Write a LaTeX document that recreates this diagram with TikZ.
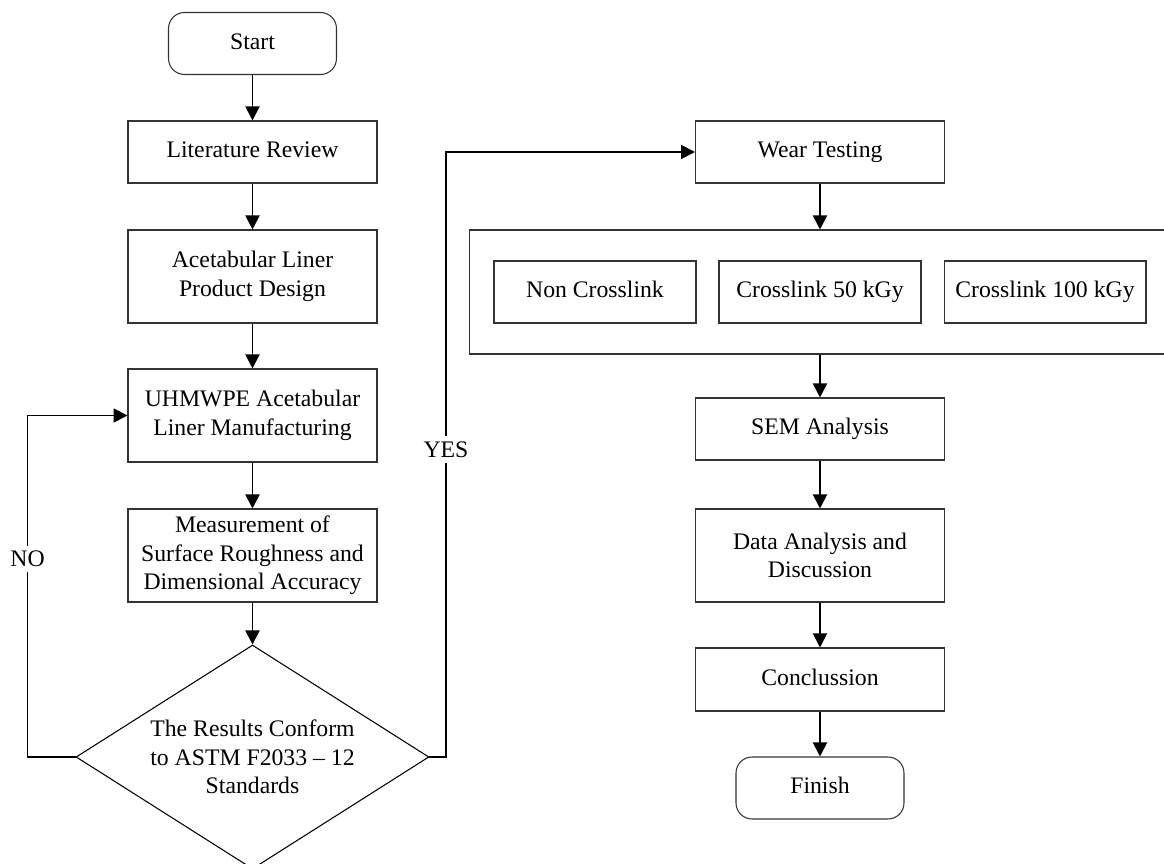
\documentclass[tikz,border=0pt]{standalone}
\usepackage{fontspec}
\setmainfont{Liberation Serif}
\usetikzlibrary{shapes.geometric,arrows.meta}

\tikzset{
  box/.style={draw=black!80, line width=0.6pt, minimum width=4.98cm, minimum height=1.24cm, align=center, inner sep=2pt},
  oneline/.style={box, text height=0.9em, text depth=0.24em},
  tallbox/.style={box, minimum height=1.86cm},
  term/.style={oneline, rounded corners=0.32cm, minimum width=3.36cm},
  testbox/.style={oneline, minimum width=4.04cm},
  decision/.style={diamond, draw=black, line width=0.6pt, aspect=1.576, minimum width=7.06cm, minimum height=4.48cm, inner sep=0pt, align=center},
  flow/.style={-{Triangle[length=2.8mm,width=2.8mm]}, line width=1.1pt},
  answer/.style={fill=white, inner sep=3pt},
}

\begin{document}
\begin{tikzpicture}[x=0.02cm, y=-0.02cm, font=\fontsize{13.5}{16.2}\selectfont]
  \useasboundingbox (0,0) rectangle (1164,864);
  \clip (0,0) rectangle (1164,864);

  % Left column
  \node[term]     (S) at (252.5,43.5)  {Start};
  \node[oneline]  (L) at (252.5,152)   {Literature Review};
  \node[tallbox]  (D) at (252.5,276.5) {Acetabular Liner\\Product Design};
  \node[tallbox]  (M) at (252.5,415.5) {UHMWPE Acetabular\\Liner Manufacturing};
  \node[tallbox]  (R) at (252.5,555.5) {Measurement of\\Surface Roughness and\\Dimensional Accuracy};
  \node[decision] (C) at (252.5,757)   {The Results Conform\\to ASTM F2033 -- 12\\Standards};

  % Right column
  \node[oneline] (W) at (820,152) {Wear Testing};
  \node[draw=black!80, line width=0.6pt, minimum width=14.42cm, minimum height=2.48cm] (G) at (829.5,292) {};
  \node[testbox] (T1) at (595,292)  {Non Crosslink};
  \node[testbox] (T2) at (820,292)  {Crosslink 50 kGy};
  \node[testbox] (T3) at (1045,292) {Crosslink 100 kGy};
  \node[oneline] (E) at (820,429)   {SEM Analysis};
  \node[tallbox] (A) at (820,555.5) {Data Analysis and\\Discussion};
  \node[oneline, minimum height=1.26cm] (K) at (820,679.5) {Conclussion};
  \node[term]    (F) at (820,788)   {Finish};

  % Connect the nodes
  \draw[flow] (S) -- (L);
  \draw[flow] (L) -- (D);
  \draw[flow] (D) -- (M);
  \draw[flow] (M) -- (R);
  \draw[flow] (R) -- (C);
  \draw[flow] (C.west) -- ++(-48,0) |- (M.west) node[answer, pos=0.29] {NO};
  \draw[flow] (C.east) -- ++(16.5,0) |- (W.west) node[answer, pos=0.254] {YES};
  \draw[flow] (W) -- (W |- G.north);
  \draw[flow] (W |- G.south) -- (E);
  \draw[flow] (E) -- (A);
  \draw[flow] (A) -- (K);
  \draw[flow] (K) -- (F);
\end{tikzpicture}
\end{document}
